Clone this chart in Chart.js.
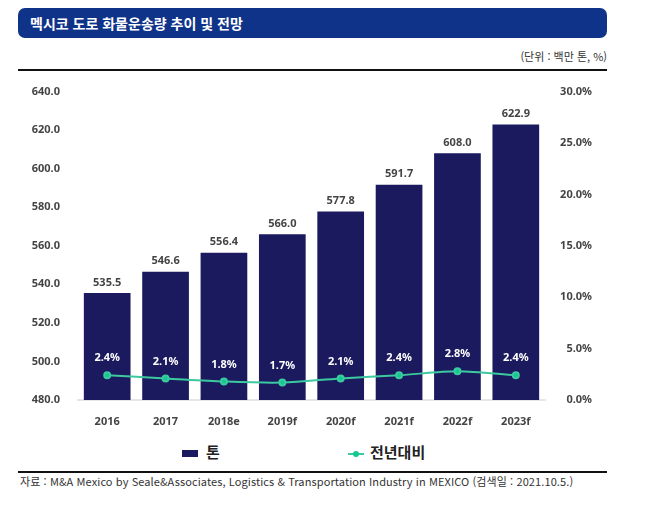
<!DOCTYPE html>
<html lang="ko">
<head>
    <meta charset="UTF-8">
    <title>멕시코 도로 화물운송량 추이 및 전망</title>
    <script src="https://cdn.jsdelivr.net/npm/chart.js"></script>
    <style>
        body {
            margin: 0;
            width: 654px;
            height: 509px;
            background: #fff;
            font-family: "Noto Sans CJK KR", "Noto Sans", sans-serif;
            position: relative;
            overflow: hidden;
        }
        .title-bar {
            position: absolute;
            left: 18px; top: 8px;
            width: 589px; height: 30px;
            background: #0f3388;
            border-radius: 7px;
            color: #fff;
            font-size: 14px;
            font-weight: bold;
            line-height: 30px;
            padding-left: 12px;
            box-sizing: border-box;
        }
        .unit {
            position: absolute;
            right: 47px; top: 48px;
            font-size: 11px;
            color: #333;
        }
        .rule {
            position: absolute;
            left: 18px; width: 589px;
            height: 2px;
            background: #111;
        }
        .chart-box {
            position: absolute;
            left: 20px; top: 75px;
            width: 572px; height: 351px;
        }
        .legend {
            position: absolute;
            top: 441px; left: 0; width: 654px;
            font-size: 15px;
            font-weight: bold;
            color: #222;
        }
        .legend span { position: absolute; top: 0; }
        .source {
            position: absolute;
            left: 20px; top: 473px;
            font-size: 11px;
            letter-spacing: 0.1px;
            color: #333;
        }
    </style>
</head>
<body>
    <div class="title-bar">멕시코 도로 화물운송량 추이 및 전망</div>
    <div class="unit">(단위 : 백만 톤, %)</div>
    <div class="rule" style="top:69px"></div>

    <div class="chart-box">
        <canvas id="freightChart"></canvas>
    </div>

    <div class="legend">
        <span style="left:182px"><i style="display:inline-block;width:16px;height:7px;background:#1b1a5e;margin-right:8px;vertical-align:middle"></i>톤</span>
        <span style="left:348px"><i style="display:inline-block;width:16px;height:2px;background:#3cc9a0;margin-right:6px;vertical-align:middle;position:relative"><b style="position:absolute;left:5px;top:-2px;width:6px;height:6px;border-radius:3px;background:#12c98f"></b></i>전년대비</span>
    </div>
    <div class="rule" style="top:471px"></div>
    <div class="source">자료 :  M&amp;A Mexico by Seale&amp;Associates, Logistics &amp; Transportation Industry in MEXICO (검색일 : 2021.10.5.)</div>

    <script>
        const years = ['2016', '2017', '2018e', '2019f', '2020f', '2021f', '2022f', '2023f'];
        const tonnes = [535.5, 546.6, 556.4, 566.0, 577.8, 591.7, 608.0, 622.9];
        const growth = [2.4, 2.1, 1.8, 1.7, 2.1, 2.4, 2.8, 2.4];
        const leftTicks = [480, 500, 520, 540, 560, 580, 600, 620, 640];
        const rightTicks = [0, 5, 10, 15, 20, 25, 30];

        const tickFont = { size: 11, weight: 'bold', family: 'Noto Sans' };

        // draws the value labels above bars and above line points
        const valueLabels = {
            id: 'valueLabels',
            afterDatasetsDraw(chart) {
                const ctx = chart.ctx;
                ctx.save();
                ctx.textAlign = 'center';
                ctx.font = 'bold 11px "Noto Sans", sans-serif';
                chart.getDatasetMeta(0).data.forEach((bar, i) => {
                    ctx.fillStyle = '#444';
                    ctx.textBaseline = 'bottom';
                    ctx.fillText(tonnes[i].toFixed(1), bar.x, bar.y - 5);
                });
                chart.getDatasetMeta(1).data.forEach((pt, i) => {
                    ctx.fillStyle = '#fff';
                    ctx.textBaseline = 'middle';
                    ctx.fillText(growth[i].toFixed(1) + '%', pt.x, pt.y - 17);
                });
                ctx.restore();
            }
        };

        new Chart(document.getElementById('freightChart').getContext('2d'), {
            data: {
                labels: years,
                datasets: [{
                    type: 'bar',
                    label: '톤',
                    data: tonnes,
                    backgroundColor: '#1b1a5e',
                    categoryPercentage: 0.8,
                    barPercentage: 1.0,
                    yAxisID: 'y',
                    order: 2
                }, {
                    type: 'line',
                    label: '전년대비',
                    data: growth,
                    borderColor: '#3cc9a0',
                    backgroundColor: '#12c98f',
                    borderWidth: 2,
                    pointRadius: 3,
                    tension: 0.3,
                    yAxisID: 'y1',
                    order: 1
                }]
            },
            options: {
                responsive: true,
                maintainAspectRatio: false,
                animation: false,
                layout: { padding: { top: 2 } },
                plugins: {
                    legend: { display: false },
                    tooltip: { enabled: false }
                },
                scales: {
                    x: {
                        grid: { display: false },
                        border: { color: '#e6e6e6', width: 2 },
                        ticks: { color: '#444', font: tickFont, padding: 7 },
                        afterFit(scale) { scale.height = 26; }
                    },
                    y: {
                        position: 'left',
                        min: 480, max: 640,
                        afterBuildTicks(scale) { scale.ticks = leftTicks.map(v => ({ value: v })); },
                        grid: { display: false },
                        border: { display: false },
                        ticks: {
                            color: '#444',
                            font: tickFont,
                            padding: 10,
                            callback: v => v.toFixed(1)
                        },
                        afterFit(scale) { scale.width = 58; }
                    },
                    y1: {
                        position: 'right',
                        min: 0, max: 30,
                        afterBuildTicks(scale) { scale.ticks = rightTicks.map(v => ({ value: v })); },
                        grid: { display: false },
                        border: { display: false },
                        ticks: {
                            color: '#444',
                            font: tickFont,
                            crossAlign: 'far',
                            callback: v => v.toFixed(1) + '%'
                        },
                        afterFit(scale) { scale.width = 47; }
                    }
                }
            },
            plugins: [valueLabels]
        });
    </script>
</body>
</html>
